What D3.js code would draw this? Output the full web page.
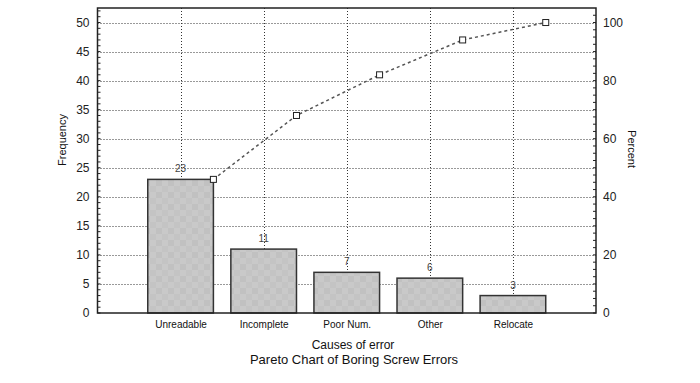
<!DOCTYPE html>
<html><head><meta charset="utf-8">
<script src="https://cdn.jsdelivr.net/npm/d3@7"></script>
<style>body{margin:0;background:#fff;}svg{display:block;font-family:Arial,"Liberation Sans",sans-serif;}</style>
</head><body>
<svg id="c" width="700" height="383"></svg>
<script>
const categories = ["Unreadable","Incomplete","Poor Num.","Other","Relocate"];
const frequencies = [23, 11, 7, 6, 3];
const freqTicks = [0,5,10,15,20,25,30,35,40,45,50];
const percentTicks = [0,20,40,60,80,100];

const total = d3.sum(frequencies);
let run = 0;
const cumPercent = frequencies.map(v => (run += v) / total * 100);

const svg = d3.select("#c");
const L = 97.5, R = 596, T = 8, B = 313;
const x = d3.scaleLinear().domain([0, categories.length + 1]).range([L, R]);
const y = d3.scaleLinear().domain([0, 52.5]).range([B, T]);
const yp = d3.scaleLinear().domain([0, 105]).range([B, T]);
const step = x(1) - x(0);
const bw = step * 0.79;

// pattern
const defs = svg.append("defs");
const pat = defs.append("pattern").attr("id","chk").attr("width",12).attr("height",12).attr("patternUnits","userSpaceOnUse");
pat.append("rect").attr("width",12).attr("height",12).attr("fill","#c9c9c9");
pat.append("rect").attr("width",6).attr("height",6).attr("fill","#c1c1c1");
pat.append("rect").attr("x",6).attr("y",6).attr("width",6).attr("height",6).attr("fill","#c4c4c4");

// grids
const g = svg.append("g");
g.selectAll(".hg").data(freqTicks.filter(d=>d>0)).join("line")
  .attr("x1",L).attr("x2",R).attr("y1",d=>Math.round(y(d))+0.5).attr("y2",d=>Math.round(y(d))+0.5)
  .attr("stroke","#333").attr("stroke-width",1).attr("stroke-dasharray","1,2");
g.selectAll(".vg").data(categories).join("line")
  .attr("x1",(d,i)=>Math.round(x(i+1))+0.5).attr("x2",(d,i)=>Math.round(x(i+1))+0.5)
  .attr("y1",T).attr("y2",B)
  .attr("stroke","#333").attr("stroke-width",1).attr("stroke-dasharray","1,2");

// bars
svg.selectAll(".bar").data(frequencies).join("rect")
  .attr("x",(d,i)=>x(i+1)-bw/2).attr("width",bw)
  .attr("y",d=>y(d)).attr("height",d=>B-y(d))
  .attr("fill","url(#chk)").attr("stroke","#333").attr("stroke-width",1.5);

// value labels
svg.selectAll(".vl").data(frequencies).join("text")
  .attr("x",(d,i)=>x(i+1)).attr("y",d=>y(d)-7)
  .attr("text-anchor","middle").attr("font-size",10).attr("fill","#444").text(d=>d);

// cumulative line
const pts = cumPercent.map((p,i)=>[x(i+1)+bw/2, yp(p)]);
svg.append("path").attr("d", d3.line()(pts)).attr("fill","none")
  .attr("stroke","#555").attr("stroke-width",1.5).attr("stroke-dasharray","3,3");
svg.selectAll(".mk").data(pts).join("rect")
  .attr("x",d=>d[0]-3).attr("y",d=>d[1]-3).attr("width",6).attr("height",6)
  .attr("fill","#fff").attr("stroke","#222").attr("stroke-width",1);

// frame
svg.append("rect").attr("x",L).attr("y",T).attr("width",R-L).attr("height",B-T)
  .attr("fill","none").attr("stroke","#222").attr("stroke-width",1.5);

// left axis
const la = svg.append("g").attr("transform",`translate(${L},0)`)
  .call(d3.axisLeft(y).tickValues(freqTicks).tickSize(0).tickPadding(8));
la.select(".domain").remove();
la.selectAll("text").attr("font-size",12).attr("fill","#222").attr("font-family","Arial,'Liberation Sans',sans-serif");
svg.append("g").selectAll("line").data(d3.range(0,53,1)).join("line")
  .attr("x1",L).attr("x2",L+3).attr("y1",d=>y(d)).attr("y2",d=>y(d)).attr("stroke","#222");

// right axis
const ra = svg.append("g").attr("transform",`translate(${R},0)`)
  .call(d3.axisRight(yp).tickValues(percentTicks).tickSize(0).tickPadding(7));
ra.select(".domain").remove();
ra.selectAll("text").attr("font-size",12).attr("fill","#222").attr("font-family","Arial,'Liberation Sans',sans-serif");
svg.append("g").selectAll("line").data(d3.range(0,105,2.5)).join("line")
  .attr("x1",R-3).attr("x2",R).attr("y1",d=>yp(d)).attr("y2",d=>yp(d)).attr("stroke","#222");

// bottom axis labels
const xa = svg.append("g").attr("transform",`translate(0,${B})`)
  .call(d3.axisBottom(x).tickValues(d3.range(1,categories.length+1)).tickFormat(d=>categories[d-1]).tickSize(0).tickPadding(8));
xa.select(".domain").remove();
xa.selectAll("text").attr("font-size",10).attr("fill","#111").attr("font-family","Arial,'Liberation Sans',sans-serif");

// titles
svg.append("text").attr("x",353).attr("y",349).attr("text-anchor","middle").attr("font-size",12).attr("fill","#111").text("Causes of error");
svg.append("text").attr("x",354).attr("y",364).attr("text-anchor","middle").attr("font-size",13).attr("fill","#111").text("Pareto Chart of Boring Screw Errors");
svg.append("text").attr("transform","translate(66,140) rotate(-90)").attr("text-anchor","middle").attr("font-size",11).attr("fill","#111").text("Frequency");
svg.append("text").attr("transform","translate(628,149) rotate(90)").attr("text-anchor","middle").attr("font-size",11).attr("fill","#111").text("Percent");
</script>
</body></html>
